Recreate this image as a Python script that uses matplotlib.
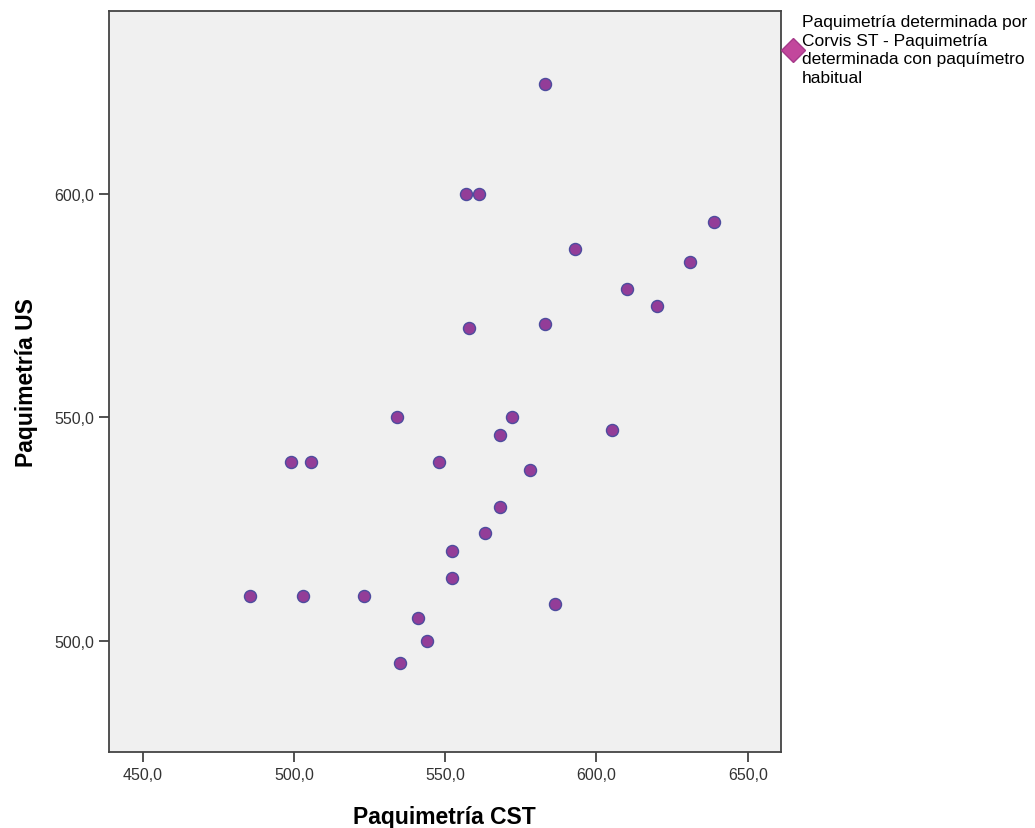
import matplotlib
matplotlib.use('Agg')
import matplotlib.pyplot as plt
from matplotlib.lines import Line2D
from matplotlib.ticker import FuncFormatter

# Paquimetria CST (x) vs Paquimetria US (y)
cst = [583.1, 556.9, 561.2, 638.9, 592.9, 631.0, 610.2, 620.1, 557.9, 583.1,
       534.1, 572.1, 568.1, 605.2, 499.0, 505.6, 548.0, 578.1, 568.1, 563.2,
       552.3, 552.3, 485.5, 503.0, 523.2, 586.3, 541.0, 544.0, 535.0]
us = [624.6, 600.0, 600.0, 593.7, 587.7, 584.8, 578.7, 574.9, 570.0, 570.9,
      550.0, 550.0, 546.0, 547.2, 540.0, 540.0, 540.0, 538.2, 529.9, 524.1,
      520.1, 514.0, 510.0, 510.0, 510.0, 508.2, 505.1, 500.0, 495.0]

x_ticks = [450, 500, 550, 600, 650]
y_ticks = [500, 550, 600]
legend_label = ("Paquimetría determinada por\nCorvis ST - Paquimetría\n"
                "determinada con paquímetro\nhabitual")

plt.rcParams['font.family'] = ['Liberation Sans', 'DejaVu Sans']

fig = plt.figure(figsize=(10.35, 8.29), dpi=100)
ax = fig.add_axes([0.1053, 0.0917, 0.649, 0.894])
ax.set_facecolor('#F0F0F0')

ax.scatter(cst, us, s=75, facecolor='#933D98', edgecolor='#4E4C9E',
           linewidth=1.0, zorder=3)

ax.set_xlim(438.9, 660.9)
ax.set_ylim(475.1, 641.0)
ax.set_xticks(x_ticks)
ax.set_yticks(y_ticks)
fmt = FuncFormatter(lambda v, p: ('%.1f' % v).replace('.', ','))
ax.xaxis.set_major_formatter(fmt)
ax.yaxis.set_major_formatter(fmt)
ax.tick_params(direction='out', length=7.5, width=1.2, color='#333333',
               labelsize=11.5, labelcolor='#333333', pad=3)

for sp in ax.spines.values():
    sp.set_color('#444444')
    sp.set_linewidth(1.3)

ax.set_xlabel('Paquimetría CST', fontsize=16.5, fontweight='bold', labelpad=17)
ax.set_ylabel('Paquimetría US', fontsize=16.5, fontweight='bold', labelpad=12)

handle = Line2D([], [], linestyle='none', marker='D', markersize=12,
                markerfacecolor='#C2479C', markeredgecolor='#A63A8A')
fig.legend([handle], [legend_label], loc='upper left',
           bbox_to_anchor=(0.752, 0.99), frameon=False, fontsize=12.5,
           handletextpad=0.05, handlelength=0.9, borderaxespad=0,
           labelspacing=0)
plt.setp(fig.legends[0].get_texts(), linespacing=1.3)

plt.savefig('out.png', dpi=100)
